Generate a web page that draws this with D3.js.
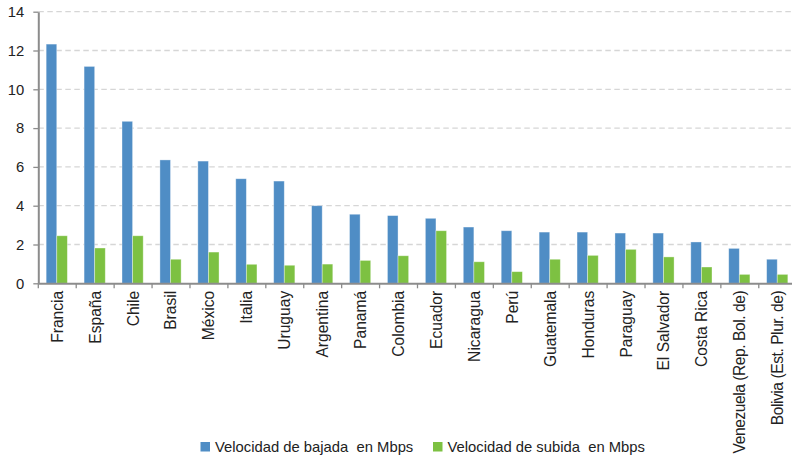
<!DOCTYPE html>
<html><head><meta charset="utf-8">
<script src="https://cdn.jsdelivr.net/npm/d3@7"></script>
<style>body{margin:0;background:#fff;overflow:hidden}svg{display:block;font-family:"Liberation Sans",Arial,sans-serif}</style>
</head><body>
<script>
const categories = ["Francia","España","Chile","Brasil","México","Italia","Uruguay","Argentina","Panamá","Colombia","Ecuador","Nicaragua","Perú","Guatemala","Honduras","Paraguay","El Salvador","Costa Rica","Venezuela (Rep. Bol. de)","Bolivia (Est. Plur. de)"];
const bajada = [12.33,11.18,8.35,6.36,6.30,5.39,5.27,4.00,3.56,3.49,3.35,2.90,2.71,2.64,2.64,2.59,2.59,2.13,1.80,1.24];
const subida = [2.45,1.82,2.45,1.24,1.61,0.98,0.93,0.99,1.18,1.42,2.71,1.11,0.60,1.24,1.44,1.75,1.36,0.84,0.46,0.46];
const seriesNames = ["Velocidad de bajada  en Mbps","Velocidad de subida  en Mbps"];
const colors = ["#4f8dc5","#7dc142"];
const yTicks = [0,2,4,6,8,10,12,14];

const W = 792, H = 461;
const mLeft = 38.3, mRight = 796.7, mTop = 11.7, mBottom = 283.3;
const svg = d3.select("body").append("svg").attr("width", W).attr("height", H);

const x = d3.scaleBand().domain(categories).range([mLeft, mRight]).paddingInner(0).paddingOuter(0);
const y = d3.scaleLinear().domain([0, 14]).range([mBottom, mTop]);
const barW = 10.6;
const x1 = d3.scaleBand().domain([0,1]).range([0, barW*2]);

// grid
svg.append("g").selectAll("line").data(yTicks.filter(d => d > 0)).join("line")
  .attr("x1", mLeft).attr("x2", W).attr("y1", d => y(d)).attr("y2", d => y(d))
  .attr("stroke", "#d6d6d6").attr("stroke-width", 1.3).attr("stroke-dasharray", "5.5,3.5");

// bars
const data = [bajada, subida];
const g = svg.append("g");
categories.forEach((c, i) => {
  const gx = x(c) + (x.bandwidth() - barW*2) / 2 - 0.5;
  data.forEach((s, k) => {
    g.append("rect")
      .attr("x", gx + x1(k)).attr("y", y(s[i]))
      .attr("width", x1.bandwidth()).attr("height", y(0) - y(s[i]))
      .attr("fill", colors[k])
      .attr("stroke", "rgba(255,255,255,0.45)").attr("stroke-width", 0.8);
  });
});

// y axis
const yAxis = svg.append("g").attr("transform", `translate(${mLeft},0)`)
  .call(d3.axisLeft(y).tickValues(yTicks).tickSize(5).tickPadding(9).tickSizeOuter(0));
yAxis.select(".domain").attr("stroke", "#8c8c8c").attr("stroke-width", 2);
yAxis.selectAll(".tick line").attr("stroke", "#8c8c8c").attr("stroke-width", 1.3);
yAxis.selectAll("text").attr("font-size", 14.8).attr("fill", "#222").attr("font-family", "Liberation Sans, Arial, sans-serif");

// x axis
const xAxis = svg.append("g").attr("transform", `translate(0,${mBottom})`)
  .call(d3.axisBottom(x).tickSize(0).tickPadding(0).tickSizeOuter(0));
xAxis.select(".domain").attr("stroke", "#8c8c8c").attr("stroke-width", 2);
xAxis.selectAll(".tick text")
  .attr("font-size", 15.6).attr("fill", "#222").attr("font-family", "Liberation Sans, Arial, sans-serif")
  .attr("text-anchor", "end").attr("transform", "rotate(-90)")
  .attr("x", -7.5).attr("y", 0).attr("dy", "0.35em")
  .attr("letter-spacing", d => d.length > 22 ? -0.45 : 0);
// tick marks at band boundaries
svg.append("g").selectAll("line").data(categories).join("line")
  .attr("x1", d => x(d)).attr("x2", d => x(d))
  .attr("y1", mBottom).attr("y2", mBottom + 5)
  .attr("stroke", "#8c8c8c").attr("stroke-width", 1.3);

// legend
const legend = svg.append("g");
const legX = [200.5, 433];
seriesNames.forEach((n, k) => {
  legend.append("rect").attr("x", legX[k]).attr("y", 442).attr("width", 9.5).attr("height", 9.5).attr("fill", colors[k]);
  legend.append("text").attr("x", legX[k] + 14.5).attr("y", 451.5).text(n)
    .attr("font-size", 14.8).attr("fill", "#222").style("white-space", "pre");
});
</script>
</body></html>
